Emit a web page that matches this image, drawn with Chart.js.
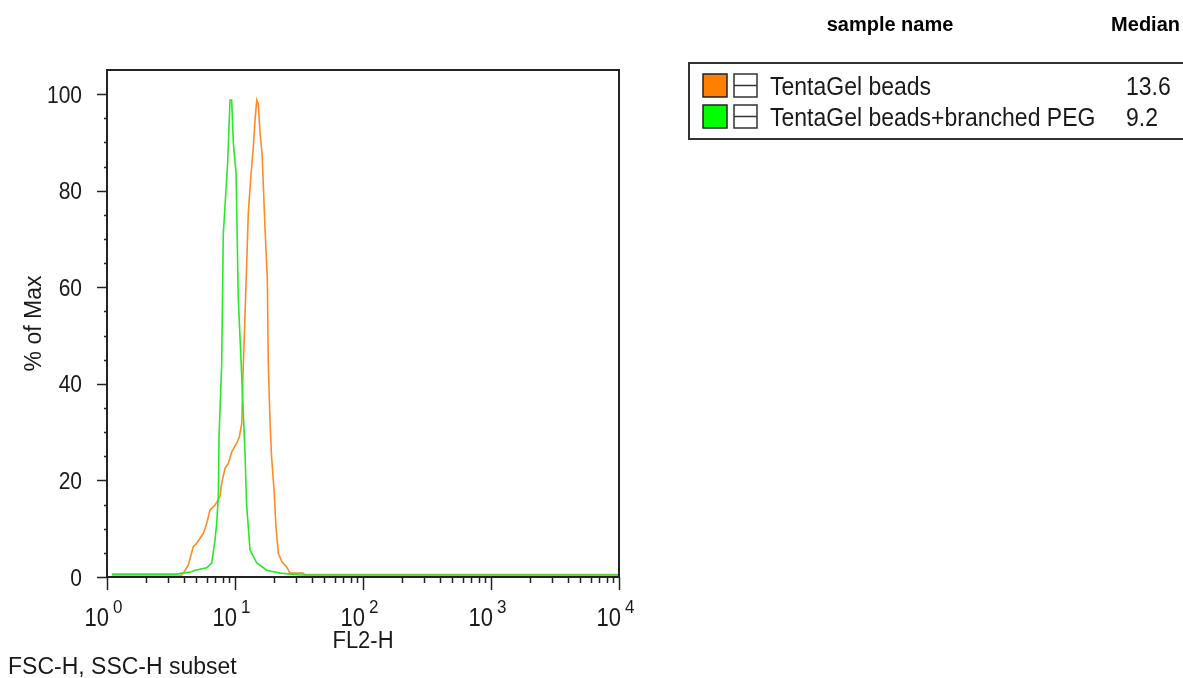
<!DOCTYPE html>
<html>
<head>
<meta charset="utf-8">
<script src="https://cdn.jsdelivr.net/npm/chart.js@4/dist/chart.umd.min.js"></script>
<style>
  html, body { margin: 0; padding: 0; background: #fff; }
  canvas { display: block; }
</style>
</head>
<body>
<canvas id="histo" width="1183" height="678"></canvas>
<script>
// FL2-H values (x) and % of Max (y)
const fl2Orange = [1.09, 3.72, 3.95, 4.32, 4.72, 5.02, 5.65, 6.01, 6.38, 6.98, 7.63, 7.87, 8.35, 8.87, 9.42, 10.3, 10.8, 11.3, 11.5, 11.6, 11.8, 12.3, 12.7, 13.3, 13.9, 14.4, 14.8, 15.2, 15.7, 16.3, 17.1, 17.9, 18.2, 18.8, 19.3, 20.2, 20.9, 21.8, 23.2, 25.3, 26.9, 34, 35, 10000];
const pctOrange = [0.2, 0.2, 0.8, 2.5, 6.3, 7, 9, 11.1, 13.9, 14.9, 16.6, 19.4, 22.5, 23.5, 25.9, 27.7, 29, 31.8, 40.8, 43.5, 49, 63.6, 75.3, 82.9, 89, 95.3, 98.8, 98, 91.9, 87.4, 73.2, 61.5, 44.2, 31.8, 24.9, 18, 10.4, 4.9, 3.2, 2.1, 0.8, 0.8, 0.5, 0.5];

const fl2Green = [1.09, 3.5, 3.92, 4.59, 4.87, 6.01, 6.58, 6.98, 7.19, 7.41, 7.5, 7.87, 8.1, 8.77, 9.14, 9.42, 9.7, 10.2, 10.6, 11.1, 11.5, 12.0, 12.3, 13.1, 14.8, 17.7, 22.5, 32, 10000];
const pctGreen = [0.6, 0.6, 0.8, 1.1, 1.4, 1.9, 2.9, 7.7, 11, 16.6, 28.8, 44, 71, 86, 98.8, 98.8, 90, 83.6, 58, 46, 36.6, 25, 15.3, 5.6, 2.9, 1.4, 0.8, 0.4, 0.4];

const sampleNames = ["TentaGel beads", "TentaGel beads+branched PEG"];
const medians = ["13.6", "9.2"];
const yTicks = [0, 20, 40, 60, 80, 100];
const decades = [0, 1, 2, 3, 4];

const lineColors = ["#ff8c22", "#2ae82a"];
const swatchColors = ["#ff8000", "#00ff00"];
const FONT = '"Liberation Sans", Arial, sans-serif';

function pts(xs, ys) {
  return xs.map((x, i) => ({ x: x, y: ys[i] }));
}

function drawText(ctx, s, x, y, size, align, opts) {
  opts = opts || {};
  ctx.save();
  ctx.font = (opts.bold ? "bold " : "") + size + "px " + FONT;
  ctx.fillStyle = opts.color || "#1a1a1a";
  ctx.textAlign = align;
  ctx.textBaseline = opts.baseline || "alphabetic";
  ctx.translate(x, y);
  if (opts.rotate) ctx.rotate(opts.rotate);
  ctx.scale(1, opts.sy || 1.15);
  ctx.fillText(s, 0, 0);
  ctx.restore();
}

// axes, ticks, labels and the sample legend
const flowjoFrame = {
  id: "flowjoFrame",
  afterDatasetsDraw(chart) {
    const ctx = chart.ctx;
    const a = chart.chartArea;
    const xs = chart.scales.x, ys = chart.scales.y;
    ctx.save();
    ctx.strokeStyle = "#222";
    ctx.lineWidth = 2;
    ctx.strokeRect(a.left, a.top, a.right - a.left, a.bottom - a.top);

    // y ticks
    ctx.lineWidth = 1.5;
    ctx.beginPath();
    for (let v = 0; v <= 100; v += 5) {
      const py = Math.round(ys.getPixelForValue(v)) + 0.5;
      const len = v % 20 === 0 ? 10 : 3;
      ctx.moveTo(a.left - len, py);
      ctx.lineTo(a.left, py);
    }
    ctx.stroke();
    yTicks.forEach(v => {
      drawText(ctx, String(v), a.left - 25, ys.getPixelForValue(v) + 8.5, 21, "right");
    });

    // x ticks (log decades + minors)
    ctx.beginPath();
    decades.forEach(d => {
      const px = Math.round(xs.getPixelForValue(Math.pow(10, d))) + 0.5;
      ctx.moveTo(px, a.bottom);
      ctx.lineTo(px, a.bottom + 13);
      if (d < 4) {
        for (let k = 2; k <= 9; k++) {
          const mx = Math.round(xs.getPixelForValue(k * Math.pow(10, d))) + 0.5;
          ctx.moveTo(mx, a.bottom);
          ctx.lineTo(mx, a.bottom + 6);
        }
      }
    });
    ctx.stroke();
    decades.forEach(d => {
      const px = xs.getPixelForValue(Math.pow(10, d));
      drawText(ctx, "10", px + 2, a.bottom + 49, 22, "right", { sy: 1.15 });
      drawText(ctx, String(d), px + 6, a.bottom + 36, 17, "left", { sy: 1.05 });
    });

    // axis titles
    drawText(ctx, "FL2-H", (a.left + a.right) / 2, 648, 22, "center", { sy: 1.1 });
    drawText(ctx, "% of Max", 41, (a.top + a.bottom) / 2, 23, "center", { rotate: -Math.PI / 2, sy: 1.0 });
    drawText(ctx, "FSC-H, SSC-H subset", 8, 674, 23, "left", { sy: 1.05 });

    // legend table
    drawText(ctx, "sample name", 890, 31, 20, "center", { bold: true, sy: 1.05, color: "#000" });
    drawText(ctx, "Median", 1180, 31, 20, "right", { bold: true, sy: 1.05, color: "#000" });
    ctx.strokeStyle = "#333";
    ctx.lineWidth = 2;
    ctx.strokeRect(689, 63, 520, 76);
    sampleNames.forEach((name, i) => {
      const top = 74 + i * 31;
      ctx.fillStyle = swatchColors[i];
      ctx.fillRect(703, top, 24, 23);
      ctx.strokeStyle = "#222";
      ctx.lineWidth = 1.5;
      ctx.strokeRect(703, top, 24, 23);
      ctx.strokeStyle = "#333";
      ctx.lineWidth = 1.5;
      ctx.strokeRect(734, top, 23, 23);
      ctx.beginPath();
      ctx.moveTo(734, top + 11.5);
      ctx.lineTo(757, top + 11.5);
      ctx.stroke();
      drawText(ctx, name, 770, top + 21, 23, "left", { sy: 1.1 });
      drawText(ctx, medians[i], 1126, top + 21, 23, "left", { sy: 1.1 });
    });
    ctx.restore();
  }
};

new Chart(document.getElementById("histo"), {
  type: "line",
  data: {
    datasets: [
      {
        label: sampleNames[1],
        data: pts(fl2Green, pctGreen),
        borderColor: lineColors[1],
        borderWidth: 1.6,
        pointRadius: 0,
        tension: 0,
        fill: false
      },
      {
        label: sampleNames[0],
        data: pts(fl2Orange, pctOrange),
        borderColor: lineColors[0],
        borderWidth: 1.6,
        pointRadius: 0,
        tension: 0,
        fill: false
      }
    ]
  },
  options: {
    responsive: false,
    animation: false,
    devicePixelRatio: 1,
    layout: { padding: { left: 107, top: 70, right: 564, bottom: 101 } },
    plugins: { legend: { display: false }, tooltip: { enabled: false } },
    scales: {
      x: { type: "logarithmic", min: 1, max: 10000, display: false },
      y: { type: "linear", min: 0, max: 105, display: false }
    }
  },
  plugins: [flowjoFrame]
});
</script>
</body>
</html>
